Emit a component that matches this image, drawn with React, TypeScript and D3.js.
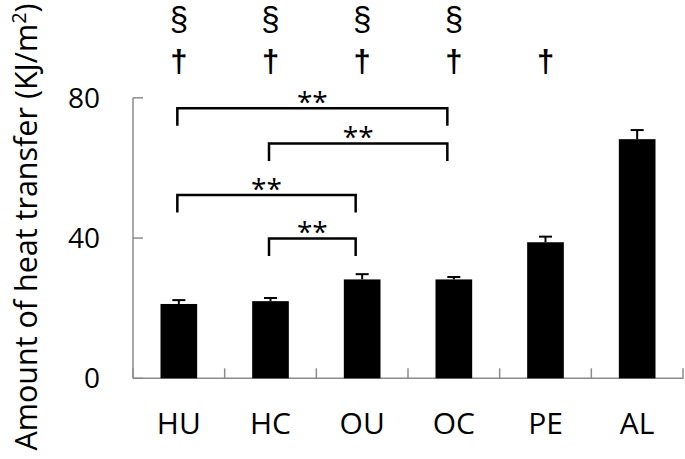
import React from "react";
import * as d3 from "d3";

const categories = ["HU", "HC", "OU", "OC", "PE", "AL"];
const means = [21.2, 22.0, 28.2, 28.2, 38.8, 68.2];
const errors = [1.1, 0.9, 1.5, 0.7, 1.6, 2.6];
const yTicks = [0, 40, 80];
const sectionMarks = ["HU", "HC", "OU", "OC"];
const daggerMarks = ["HU", "HC", "OU", "OC", "PE"];
const brackets = [
  { from: "HU", to: "OC", level: 77.0, label: "**" },
  { from: "HC", to: "OC", level: 67.0, label: "**" },
  { from: "HU", to: "OU", level: 52.3, label: "**" },
  { from: "HC", to: "OU", level: 39.9, label: "**" },
];

const W = 685;
const H = 459;
const font = "'Open Sans', sans-serif";
const markFont = "'Liberation Sans', Arial, sans-serif";

export default function App() {
  const x = d3.scaleBand<string>()
    .domain(categories)
    .range([133, 683])
    .paddingInner(0.6)
    .paddingOuter(0.3);
  const y = d3.scaleLinear().domain([0, 80]).range([378.3, 97.8]);
  const step = x.step();
  const mid = (c: string) => (x(c) as number) + x.bandwidth() / 2;
  const drop = y(0) - y(5);
  const axisColor = "#8c8c8c";

  return (
    <svg width={W} height={H} style={{ position: "absolute", left: 0, top: 0, background: "#fff" }}>
      {/* y label */}
      <text
        transform={`translate(37,227) rotate(-90)`}
        textAnchor="middle"
        fontFamily={font}
        fontSize={30.5}
        fill="#000"
      >
        Amount of heat transfer (KJ/m<tspan dy={-11} fontSize={20}>2</tspan><tspan dy={11}>)</tspan>
      </text>

      {/* y axis */}
      <line x1={133} x2={133} y1={y(80)} y2={y(0)} stroke={axisColor} strokeWidth={1.5} />
      {yTicks.map((t) => (
        <g key={t}>
          <line x1={133} x2={143} y1={y(t)} y2={y(t)} stroke={axisColor} strokeWidth={1.5} />
          <text x={100} y={y(t) + 10} textAnchor="end" fontFamily={font} fontSize={28} fill="#000">
            {t}
          </text>
        </g>
      ))}

      {/* x axis */}
      <line x1={133} x2={683.5} y1={y(0)} y2={y(0)} stroke={axisColor} strokeWidth={1.5} />
      {d3.range(categories.length + 1).map((i) => (
        <line
          key={i}
          x1={133 + i * step}
          x2={133 + i * step}
          y1={y(0)}
          y2={y(0) - 10}
          stroke={axisColor}
          strokeWidth={1.5}
        />
      ))}

      {/* bars */}
      {categories.map((c, i) => (
        <g key={c}>
          <rect x={x(c)} y={y(means[i])} width={x.bandwidth()} height={y(0) - y(means[i])} fill="#000" />
          <line x1={mid(c)} x2={mid(c)} y1={y(means[i])} y2={y(means[i] + errors[i])} stroke="#000" strokeWidth={2} />
          <line x1={mid(c) - 6.5} x2={mid(c) + 6.5} y1={y(means[i] + errors[i])} y2={y(means[i] + errors[i])} stroke="#000" strokeWidth={2} />
          <text x={mid(c)} y={434} textAnchor="middle" fontFamily={font} fontSize={30} fill="#000">
            {c}
          </text>
        </g>
      ))}

      {/* brackets */}
      {brackets.map((b, i) => {
        const x1 = mid(b.from) - 1.5;
        const x2 = mid(b.to) - 6.5;
        const yy = y(b.level);
        return (
          <g key={i}>
            <path
              d={`M${x1},${yy + drop}V${yy}H${x2}V${yy + drop}`}
              fill="none"
              stroke="#000"
              strokeWidth={2.5}
            />
            <text x={(x1 + x2) / 2} y={yy + 4} textAnchor="middle" fontFamily={font} fontSize={28} fill="#000">
              {b.label}
            </text>
          </g>
        );
      })}

      {/* significance marks */}
      {sectionMarks.map((c) => (
        <text key={"s" + c} x={mid(c)} y={30} textAnchor="middle" fontFamily={markFont} fontSize={33} fill="#000">
          §
        </text>
      ))}
      {daggerMarks.map((c) => (
        <text key={"d" + c} x={mid(c)} y={72} textAnchor="middle" fontFamily={markFont} fontSize={31} fontWeight="bold" fill="#000">
          †
        </text>
      ))}
    </svg>
  );
}
